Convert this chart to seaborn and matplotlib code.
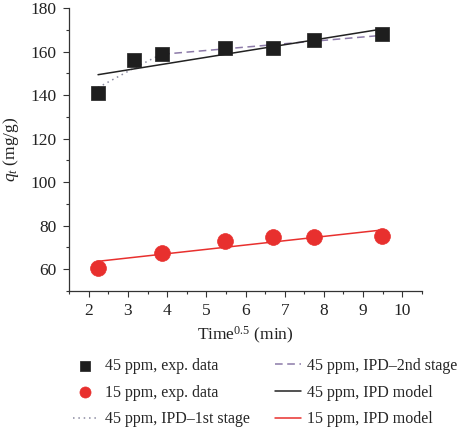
import numpy as np
import pandas as pd
import seaborn as sns
import matplotlib.pyplot as plt
from matplotlib.ticker import MultipleLocator

# ----------------------------------------------------------------------------
# data
# ----------------------------------------------------------------------------
t45 = [2.236, 3.162, 3.873, 5.477, 6.708, 7.746, 9.487]
q45 = [141.1, 156.0, 159.0, 161.8, 161.5, 165.3, 168.2]

t15 = [2.236, 3.873, 5.477, 6.708, 7.746, 9.487]
q15 = [60.3, 67.6, 72.8, 74.6, 74.9, 75.2]

# IPD fits
stage1_t = [2.236, 3.162, 3.873]
stage1_q = [143.5, 152.5, 159.0]
stage2_t = [3.873, 9.487]
stage2_q = [158.8, 167.5]
model45_t = [2.236, 9.487]
model45_q = [149.4, 170.4]
model15_t = [2.236, 9.487]
model15_q = [63.6, 78.0]

# ----------------------------------------------------------------------------
# style
# ----------------------------------------------------------------------------
sns.set_style("ticks")
plt.rcParams['font.family'] = ['Liberation Serif', 'DejaVu Serif']
plt.rcParams['mathtext.fontset'] = 'custom'
plt.rcParams['mathtext.it'] = 'Liberation Serif:italic'
plt.rcParams['mathtext.rm'] = 'Liberation Serif'

fs = 12.5

fig = plt.figure(figsize=(4.74, 4.29), dpi=100)
ax = fig.add_axes([0.146, 0.322, 0.744, 0.659])

# ----------------------------------------------------------------------------
# plot
# ----------------------------------------------------------------------------
sns.lineplot(x=stage1_t, y=stage1_q, ax=ax, color="#8a8aa0", lw=1.1,
             linestyle=(0, (1, 2.5)), label="45 ppm, IPD\u20131st stage")
sns.lineplot(x=stage2_t, y=stage2_q, ax=ax, color="#8c7aa8", lw=1.1,
             linestyle=(0, (5, 3)), label="45 ppm, IPD\u20132nd stage")
sns.lineplot(x=model45_t, y=model45_q, ax=ax, color="#222222", lw=1.1,
             label="45 ppm, IPD model")
sns.lineplot(x=model15_t, y=model15_q, ax=ax, color="#e8302e", lw=1.1,
             label="15 ppm, IPD model")
sns.scatterplot(x=t45, y=q45, ax=ax, marker="s", s=110, color="#1e1e1e",
                edgecolor="#1e1e1e", linewidth=0.5, label="45 ppm, exp. data", zorder=5)
sns.scatterplot(x=t15, y=q15, ax=ax, marker="o", s=130, color="#e8302e",
                edgecolor="#e8302e", linewidth=0.5, label="15 ppm, exp. data", zorder=5)

# axes
ax.set_xlim(1.5, 10.5)
ax.set_ylim(50, 180)
ax.xaxis.set_minor_locator(MultipleLocator(0.5))
ax.yaxis.set_minor_locator(MultipleLocator(10))
ax.set_xticks(range(2, 11))
ax.set_yticks(range(60, 181, 20))
ax.tick_params(axis='both', which='major', direction='out', length=4, width=0.8,
               labelsize=fs, colors="#333333", labelcolor="#222222", pad=5)
ax.tick_params(axis='both', which='minor', direction='out', length=2.5, width=0.8,
               colors="#333333")
for side in ['left', 'bottom']:
    ax.spines[side].set_color("#333333")
    ax.spines[side].set_linewidth(0.9)
sns.despine(ax=ax)

ax.set_xlabel("Time$^{0.5}$ (min)", fontsize=fs, color="#222222", labelpad=4)
ax.set_ylabel("$q_t$ (mg/g)", fontsize=fs, color="#222222", labelpad=7)

# legend below the axes, two columns
handles, labels = ax.get_legend_handles_labels()
lookup = dict(zip(labels, handles))
order = ["45 ppm, exp. data", "15 ppm, exp. data", "45 ppm, IPD\u20131st stage",
         "45 ppm, IPD\u20132nd stage", "45 ppm, IPD model", "15 ppm, IPD model"]
ax.get_legend().remove()
fig.legend([lookup[k] for k in order], order, ncol=2, loc="lower left",
           bbox_to_anchor=(0.123, -0.03), frameon=False, fontsize=11.5,
           handlelength=1.6, columnspacing=1.6, labelspacing=0.68,
           markerscale=0.7, handletextpad=0.4)

plt.savefig("out.png", dpi=100)
